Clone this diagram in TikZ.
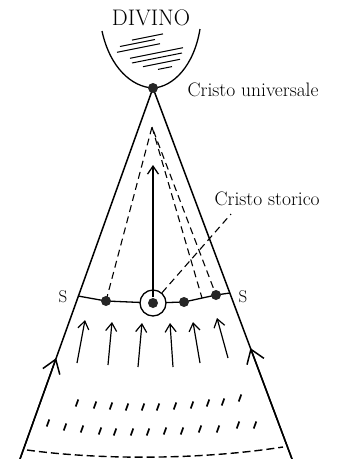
\documentclass[tikz,border=0pt]{standalone}
\usepackage{fontspec}
\usepackage{tikz}
\usetikzlibrary{arrows.meta}

\begin{document}
\begin{tikzpicture}[x=1pt, y=-1pt, line width=1.3pt,
    >={Straight Barb[length=8pt,width=11pt]},
    lbl/.style={font=\fontsize{19.5}{22}\selectfont, inner sep=0pt},
    pt/.style={circle, fill=black!85, inner sep=0pt, minimum size=10pt},
    dsh/.style={dash pattern=on 7pt off 4.5pt, line width=1.1pt}]
  \useasboundingbox (0,0) rectangle (347,459);

  % The divine: cup with hatching
  \node[font=\fontsize{22.5}{24}\selectfont, inner sep=0pt] (divino) at (151,18) {DIVINO};
  \coordinate (top) at (153,88);
  \draw (102,31) .. controls (110,68) and (132,87) .. (top)
        .. controls (173,87) and (194,66) .. (200,29);
  \foreach \xa/\xb/\yc in {132/163/37, 120/155/43, 117/160/48, 130/183/53,
                           132/182/58, 143/180/63, 158/172/68}{
    \draw[line width=1pt] (\xa,{\yc+0.1*(\xb-\xa)}) -- (\xb,{\yc-0.1*(\xb-\xa)});
  }

  % Cone with arrows along its sides
  \coordinate (bl) at (20,459);
  \coordinate (br) at (292,459);
  \draw[line width=1.5pt] (bl) -- (top) -- (br);
  \path (bl) -- (top) coordinate[pos=0.272] (la);
  \path (br) -- (top) coordinate[pos=0.299] (ra);
  \draw[line width=1.5pt, -{Straight Barb[length=13pt,width=18pt]}] (bl) -- (la);
  \draw[line width=1.5pt, -{Straight Barb[length=13pt,width=18pt]}] (br) -- (ra);

  % Line S--S with the points
  \coordinate (sl) at (78,296);
  \coordinate (sr) at (230,293);
  \coordinate (p1) at (106,301);
  \coordinate (p0) at (153,303);
  \coordinate (p2) at (184,302);
  \coordinate (p3) at (216,295);
  \coordinate (pm) at (202,298);
  \draw (sl) -- (p1) -- (p0) -- (p2) -- (p3) -- (sr);
  \node[font=\fontsize{17}{18}\selectfont, inner sep=0pt] (sleft) at (63,297) {S};
  \node[font=\fontsize{17}{18}\selectfont, inner sep=0pt] (sright) at (243,297) {S};

  % Inner cone, dashed
  \coordinate (inner) at (152,127);
  \draw[dsh] (p1) -- (inner) -- (p3);
  \draw[dsh] (inner) -- (pm);

  % Points on the line
  \node[circle, draw, fill=white, minimum size=26pt, inner sep=0pt] (ring) at (p0) {};
  \node[pt] (storia) at (p0) {};
  \node[pt] (n1) at (p1) {};
  \node[pt] (n2) at (p2) {};
  \node[pt] (n3) at (p3) {};
  \node[pt] (univ) at (top) {};
  \coordinate (tip) at (153,165);
  \draw[->] (storia) -- (tip);

  % Labels
  \node[lbl, anchor=west] (universale) at (187,90) {Cristo universale};
  \node[lbl, anchor=west] (storico) at (214,199) {Cristo storico};
  \coordinate (stend) at (231,214);
  \draw[dsh] (ring) -- (stend);

  % Arrows rising to the line
  \foreach \xa/\ya/\xb/\yb in {77/363/85/320, 108/365/112/322, 138/367/142/323,
                               173/367/170/323, 200/363/193/322, 228/358/217/318}{
    \draw[line width=1.2pt, ->] (\xa,\ya) -- (\xb,\yb);
  }

  % Small strokes, two rows
  \foreach \x/\y in {77/403, 95/405, 111/406, 127/407, 143/407, 158/407, 175/406,
                     192/405, 208/403, 223/402, 240/398,
                     48/423, 65/427, 82/429, 100/431, 115/432, 132/432, 148/432,
                     165/431, 182/431, 200/429, 218/429, 238/425, 255/425}{
    \draw[line width=1.7pt] ({\x-1.3},{\y+3.5}) -- ({\x+1.3},{\y-3.5});
  }

  % Lower boundary, dashed
  \draw[line width=1.4pt, dash pattern=on 8pt off 4pt]
    (27,450) .. controls (100,460) and (200,460) .. (283,447);
\end{tikzpicture}
\end{document}
